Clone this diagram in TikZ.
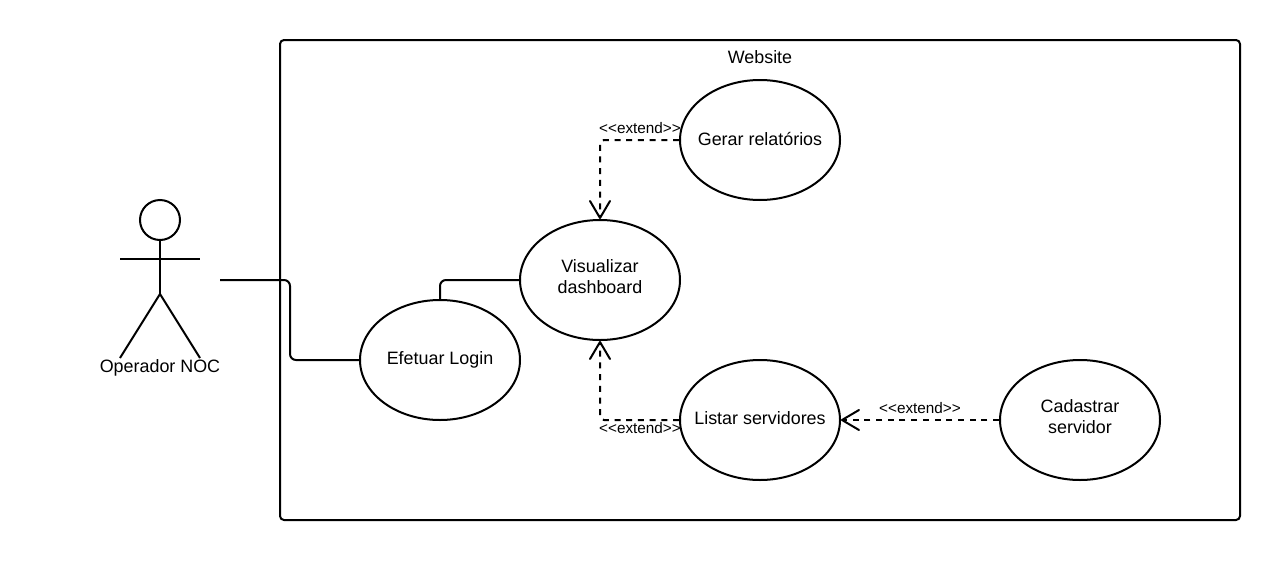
\documentclass[tikz,border=0pt]{standalone}
\usepackage{fontspec}
\setmainfont{Liberation Sans}
\usetikzlibrary{shapes.geometric,arrows.meta}
\newcommand{\extlab}{{<}{<}extend{>}{>}}
\tikzset{
  every node/.style={font=\fontsize{17.9}{21}\selectfont, text=black, inner sep=0pt, align=center},
  usecase/.style={ellipse, draw=black, line width=2pt, inner sep=-30pt, minimum width=160pt, minimum height=120pt, text depth=3pt},
  twoline/.style={text depth=6pt},
  system/.style={draw=black, line width=2pt, rounded corners=4pt},
  assoc/.style={draw=black, line width=2pt, rounded corners=6pt},
  ext/.style={draw=black, line width=2pt, rounded corners=4pt, dash pattern=on 6pt off 5.7pt,
    -{Straight Barb[length=17pt,width=20pt,line width=2pt,round=false]}},
  limb/.style={draw=black, line width=2pt},
  extlabel/.style={font=\fontsize{15.3}{17}\selectfont}
}
\begin{document}
\begin{tikzpicture}[x=1pt,y=-1pt]
\useasboundingbox (0,0) rectangle (1280,560);
\draw[system] (280,40) rectangle (1240,520);
\node (title) at (760,57) {Website};
\node[usecase] (gerar) at (760,140) {Gerar relatórios};
\node[usecase,twoline] (vis) at (600,280) {Visualizar\\dashboard};
\node[usecase] (login) at (440,360) {Efetuar Login};
\node[usecase] (listar) at (760,420) {Listar servidores};
\node[usecase,twoline] (cad) at (1080,420) {Cadastrar\\servidor};
% actor
\node[circle, draw=black, line width=2pt, minimum size=40pt] (head) at (160,220) {};
\coordinate (hip) at (160,294);
\coordinate (armL) at (120,259);
\coordinate (armR) at (200,259);
\coordinate (footL) at (120,358);
\coordinate (footR) at (200,358);
\coordinate (actorR) at (220,280);
\draw[limb] (head.south) -- (hip);
\draw[limb] (armL) -- (armR);
\draw[limb] (footL) -- (hip) -- (footR);
\node (actorlabel) at (160,368) {Operador NOC};
% connectors
\draw[assoc] (actorR) -- (290,280) -- (290,360) -- (login.west);
\draw[assoc] (login.north) -- (440,280) -- (vis.west);
\draw[ext] (gerar.west) -- (600,140) -- (vis.north);
\draw[ext] (listar.west) -- (600,420) -- (vis.south);
\draw[ext] (cad.west) -- (listar.east);
\node[extlabel] (l1) at (640,128) {\extlab};
\node[extlabel] (l2) at (640,428) {\extlab};
\node[extlabel] (l3) at (920,408) {\extlab};
\end{tikzpicture}
\end{document}
